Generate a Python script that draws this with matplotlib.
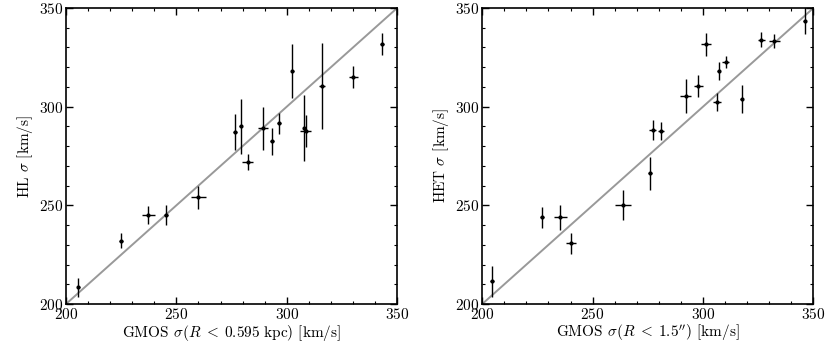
import matplotlib
matplotlib.use('Agg')
import matplotlib.pyplot as plt
from matplotlib.ticker import MultipleLocator

plt.rcParams['font.family'] = 'serif'
plt.rcParams['font.serif'] = ['cmr10']
plt.rcParams['mathtext.fontset'] = 'cm'
plt.rcParams['axes.formatter.use_mathtext'] = True
plt.rcParams['font.size'] = 11

# left panel: GMOS (R < 0.595 kpc) vs HL
hl_gmos = [205.6, 224.9, 237.3, 245.3, 259.9, 276.6, 279.1, 282.3, 289.1,
           293.3, 296.4, 302.5, 308.0, 308.6, 316.0, 330.2, 343.2]
hl_gmos_err = [0.8, 0.8, 3.0, 1.0, 3.5, 0.8, 0.8, 2.5, 2.3,
               0.8, 0.8, 0.8, 0.8, 2.4, 1.5, 2.0, 0.8]
hl_sigma = [208.6, 232.1, 245.1, 245.1, 254.0, 287.3, 290.0, 271.8, 289.0,
            282.4, 291.7, 318.1, 289.3, 287.7, 310.5, 315.0, 331.8]
hl_sigma_err = [4.8, 3.8, 4.8, 5.0, 5.9, 9.0, 14.0, 4.0, 10.7,
                6.8, 5.3, 13.5, 16.6, 8.1, 22.0, 5.7, 5.6]

# right panel: GMOS (R < 1.5") vs HET
het_gmos = [204.4, 227.0, 235.3, 240.2, 263.6, 276.1, 277.2, 281.0, 292.1,
            297.9, 301.4, 306.3, 307.1, 310.3, 317.5, 326.4, 332.3, 346.0]
het_gmos_err = [0.8, 0.8, 2.9, 2.4, 3.6, 0.8, 1.5, 1.5, 2.3,
                2.0, 2.4, 2.0, 0.8, 1.5, 0.8, 1.5, 2.5, 0.8]
het_sigma = [211.6, 243.9, 243.9, 230.7, 250.2, 266.2, 288.2, 287.7, 305.4,
             310.6, 331.6, 302.2, 318.1, 322.6, 304.0, 333.9, 333.1, 343.6]
het_sigma_err = [7.9, 5.5, 6.3, 5.1, 7.4, 8.4, 5.1, 4.7, 8.8,
                 5.7, 5.7, 4.6, 4.4, 3.1, 7.2, 3.8, 3.6, 6.8]

lims = [200, 350]

fig = plt.figure(figsize=(8.3, 3.56), dpi=100)
ax1 = fig.add_axes([0.0795, 0.146, 0.399, 0.8315])
ax2 = fig.add_axes([0.581, 0.146, 0.399, 0.8315])

panels = [
    (ax1, hl_gmos, hl_gmos_err, hl_sigma, hl_sigma_err,
     r'GMOS $\sigma(R\;<\;0.595\ \mathrm{kpc})$ [km/s]', r'HL $\sigma$ [km/s]'),
    (ax2, het_gmos, het_gmos_err, het_sigma, het_sigma_err,
     r"GMOS $\sigma(R\;<\;1.5'')$ [km/s]", r'HET $\sigma$ [km/s]'),
]

for ax, x, xe, y, ye, xl, yl in panels:
    ax.plot(lims, lims, color='#999999', lw=1.4, zorder=1)
    ax.errorbar(x, y, xerr=xe, yerr=ye, fmt='o', color='black', ms=2,
                elinewidth=1, capsize=0, zorder=2)
    ax.set_xlim(lims)
    ax.set_ylim(lims)
    ax.xaxis.set_major_locator(MultipleLocator(50))
    ax.yaxis.set_major_locator(MultipleLocator(50))
    ax.xaxis.set_minor_locator(MultipleLocator(10))
    ax.yaxis.set_minor_locator(MultipleLocator(10))
    ax.tick_params(which='both', direction='in', top=True, right=True)
    ax.tick_params(which='major', length=5, width=1, pad=2)
    ax.tick_params(which='minor', length=2.5, width=0.8)
    for s in ax.spines.values():
        s.set_linewidth(1.2)
    ax.set_xlabel(xl, labelpad=1)
    ax.set_ylabel(yl, labelpad=3)

plt.savefig('out.png', dpi=100)
